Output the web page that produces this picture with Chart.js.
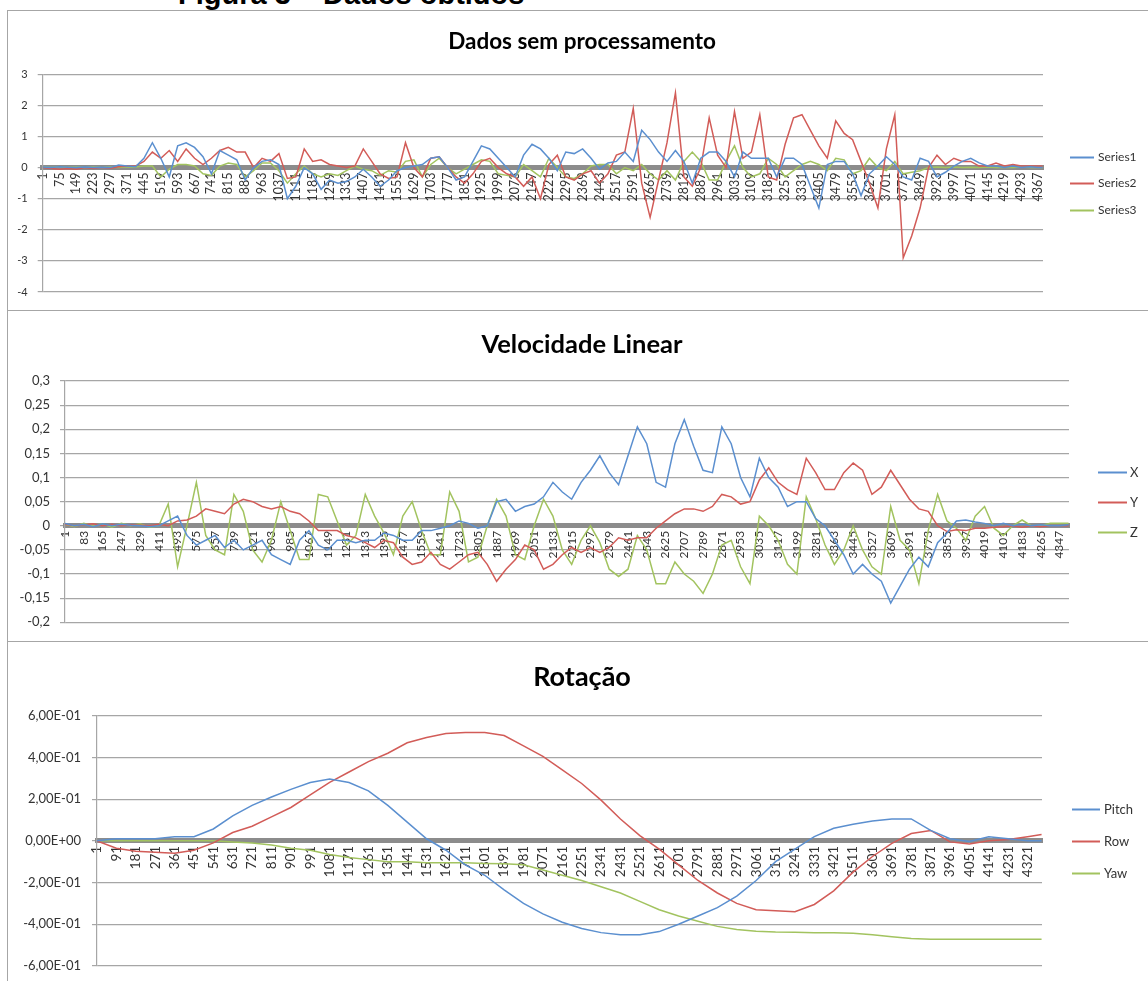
<!DOCTYPE html>
<html>
<head>
<meta charset="utf-8">
<title>Figura 3 – Dados obtidos</title>
<script src="https://cdn.jsdelivr.net/npm/chart.js@4.4.1/dist/chart.umd.min.js"></script>
<style>
  html, body { margin: 0; padding: 0; background: #fff; }
  body { width: 1148px; height: 981px; position: relative; overflow: hidden; font-family: Lato, sans-serif; }
  #caption { position: absolute; left: 178px; top: -20px; font: bold 29px/29px "Liberation Sans", Arial, sans-serif; color: #000; white-space: nowrap; }
  .panel { position: absolute; left: 7px; width: 1150px; border: 1px solid #a6a6a6; box-sizing: border-box; background: #fff; }
  .panel canvas { display: block; }
</style>
</head>
<body>
<div id="caption">Figura 3 – Dados obtidos</div>
<div class="panel" style="top:10px;height:301px"><canvas id="raw" width="1148" height="299"></canvas></div>
<div class="panel" style="top:310px;height:332px"><canvas id="vel" width="1148" height="330"></canvas></div>
<div class="panel" style="top:641px;height:345px"><canvas id="rot" width="1148" height="343"></canvas></div>

<script>
// ---- Dados sem processamento (sampled every 37 rows, last row 4386) ----
const rawTicks = [1, 75, 149, 223, 297, 371, 445, 519, 593, 667, 741, 815, 889, 963, 1037, 1111, 1185, 1259, 1333, 1407,
  1481, 1555, 1629, 1703, 1777, 1851, 1925, 1999, 2073, 2147, 2221, 2295, 2369, 2443, 2517, 2591, 2665, 2739, 2813, 2887,
  2961, 3035, 3109, 3183, 3257, 3331, 3405, 3479, 3553, 3627, 3701, 3775, 3849, 3923, 3997, 4071, 4145, 4219, 4293, 4367];
const rawSeries1 = [
  0.02, 0.00, 0.03, 0.01, 0.00, 0.02, 0.00, 0.01, 0.00, 0.08,
  0.05, 0.03, 0.30, 0.80, 0.30, -0.30, 0.70, 0.80, 0.65, 0.35,
  -0.20, 0.55, 0.40, 0.25, -0.40, 0.00, 0.20, 0.25, 0.10, -1.00,
  -0.60, 0.00, -0.20, -0.70, -0.40, -0.50, -0.45, -0.30, -0.05, -0.30,
  -0.60, -0.40, -0.10, 0.00, 0.05, 0.10, 0.30, 0.35, 0.00, -0.40,
  -0.30, 0.20, 0.70, 0.60, 0.30, 0.00, -0.30, 0.40, 0.75, 0.60,
  0.30, -0.10, 0.50, 0.45, 0.60, 0.30, -0.05, 0.15, 0.20, 0.50,
  0.20, 1.20, 0.90, 0.50, 0.20, 0.55, 0.20, -0.50, 0.30, 0.50,
  0.50, 0.20, -0.30, 0.50, 0.30, 0.30, 0.30, -0.30, 0.30, 0.30,
  0.10, -0.60, -1.30, 0.10, 0.20, 0.20, -0.20, -0.90, -0.20, 0.05,
  0.35, 0.10, -0.30, -0.40, 0.30, 0.20, -0.30, -0.15, 0.05, 0.20,
  0.30, 0.15, 0.05, 0.05, 0.00, 0.05, 0.00, 0.03, 0.00, 0.00];
const rawSeries2 = [
  0.00, -0.03, -0.05, -0.03, -0.05, 0.00, -0.03, 0.00, -0.02, 0.03,
  0.05, 0.05, 0.20, 0.50, 0.30, 0.55, 0.20, 0.60, 0.30, 0.10,
  0.30, 0.55, 0.65, 0.50, 0.50, 0.00, 0.30, 0.20, 0.45, -0.35,
  -0.30, 0.60, 0.20, 0.25, 0.10, 0.05, 0.00, 0.05, 0.60, 0.20,
  -0.20, -0.35, -0.30, 0.80, 0.00, -0.30, 0.30, 0.35, 0.00, -0.30,
  -0.50, -0.20, 0.20, 0.30, 0.00, -0.20, -0.30, -0.60, -0.30, -1.00,
  0.10, 0.40, -0.30, -0.40, -0.20, -0.10, -0.50, -0.20, 0.40, 0.50,
  1.90, -0.50, -1.60, -0.40, 0.80, 2.40, -0.30, -0.60, 0.00, 1.60,
  0.40, 0.00, 1.80, 0.30, 0.50, 1.70, -0.30, -0.40, 0.75, 1.60,
  1.70, 1.20, 0.70, 0.30, 1.50, 1.10, 0.90, 0.20, -0.50, -1.30,
  0.60, 1.70, -2.90, -2.20, -1.30, 0.00, 0.40, 0.10, 0.30, 0.20,
  0.20, 0.05, 0.05, 0.15, 0.05, 0.10, 0.05, 0.05, 0.05, 0.05];
const rawSeries3 = [
  0.02, 0.00, 0.03, 0.00, 0.02, 0.00, 0.02, 0.00, 0.02, 0.00,
  0.03, 0.02, 0.05, 0.05, -0.30, -0.05, 0.10, 0.10, 0.05, -0.20,
  -0.25, 0.05, 0.15, 0.10, -0.30, -0.10, 0.15, 0.15, -0.10, -0.50,
  -0.20, 0.05, -0.20, -0.30, -0.20, -0.25, -0.10, 0.05, -0.05, -0.10,
  -0.25, -0.10, -0.15, 0.20, 0.25, -0.30, 0.10, 0.30, 0.00, -0.20,
  -0.05, 0.10, 0.25, 0.20, -0.20, -0.25, -0.30, 0.10, -0.10, -0.30,
  0.30, 0.00, -0.30, -0.35, -0.20, 0.05, 0.10, 0.10, -0.20, 0.00,
  -0.10, 0.10, -0.20, -0.40, -0.10, -0.40, 0.20, 0.50, 0.20, -0.40,
  -0.40, 0.20, 0.70, 0.00, -0.30, -0.20, 0.30, 0.10, -0.30, -0.10,
  0.10, 0.20, 0.10, -0.10, 0.30, 0.25, -0.20, -0.10, 0.30, 0.00,
  -0.10, 0.20, -0.20, -0.15, -0.10, 0.00, 0.02, 0.00, 0.02, 0.00,
  0.01, 0.00, 0.02, 0.00, 0.01, 0.00, 0.02, 0.00, 0.01, 0.00];

// ---- Velocidade Linear (sampled every 41 rows) ----
const velTicks = [1, 83, 165, 247, 329, 411, 493, 575, 657, 739, 821, 903, 985, 1067, 1149, 1231, 1313, 1395, 1477, 1559,
  1641, 1723, 1805, 1887, 1969, 2051, 2133, 2215, 2297, 2379, 2461, 2543, 2625, 2707, 2789, 2871, 2953, 3035, 3117, 3199,
  3281, 3363, 3445, 3527, 3609, 3691, 3773, 3855, 3937, 4019, 4101, 4183, 4265, 4347];
const velX = [
  0.005, 0.000, 0.003, -0.002, 0.004, 0.000, 0.003, 0.001, 0.000, -0.002,
  0.000, 0.010, 0.020, -0.020, -0.040, -0.030, -0.020, -0.045, -0.030, -0.050,
  -0.040, -0.030, -0.060, -0.070, -0.080, -0.030, -0.010, -0.040, -0.050, -0.030,
  -0.030, -0.035, -0.030, -0.030, -0.015, -0.020, -0.030, -0.030, -0.010, -0.010,
  -0.005, 0.000, 0.010, 0.005, -0.005, 0.000, 0.050, 0.055, 0.030, 0.040,
  0.045, 0.060, 0.090, 0.070, 0.055, 0.090, 0.115, 0.145, 0.110, 0.085,
  0.145, 0.205, 0.170, 0.090, 0.080, 0.170, 0.220, 0.165, 0.115, 0.110,
  0.205, 0.170, 0.100, 0.060, 0.140, 0.100, 0.080, 0.040, 0.050, 0.050,
  0.015, 0.000, -0.030, -0.060, -0.100, -0.080, -0.100, -0.115, -0.160, -0.125,
  -0.090, -0.065, -0.085, -0.035, -0.015, 0.010, 0.012, 0.008, 0.005, 0.000,
  0.005, 0.000, 0.003, 0.000, 0.002, 0.000, 0.000, 0.002];
const velY = [
  0.003, 0.000, 0.002, 0.004, 0.000, 0.003, 0.000, 0.002, 0.001, 0.000,
  0.003, 0.000, 0.010, 0.012, 0.020, 0.035, 0.030, 0.025, 0.045, 0.055,
  0.050, 0.040, 0.035, 0.040, 0.030, 0.025, 0.010, -0.010, -0.010, -0.010,
  -0.020, -0.025, -0.035, -0.045, -0.030, -0.035, -0.065, -0.080, -0.075, -0.055,
  -0.080, -0.090, -0.075, -0.060, -0.055, -0.080, -0.115, -0.090, -0.070, -0.040,
  -0.050, -0.090, -0.080, -0.060, -0.045, -0.055, -0.045, -0.055, -0.045, -0.025,
  -0.030, -0.025, -0.025, -0.005, 0.010, 0.025, 0.035, 0.035, 0.030, 0.040,
  0.065, 0.060, 0.045, 0.050, 0.095, 0.120, 0.090, 0.075, 0.065, 0.140,
  0.110, 0.075, 0.075, 0.110, 0.130, 0.115, 0.065, 0.080, 0.115, 0.085,
  0.055, 0.035, 0.030, 0.000, -0.012, -0.008, -0.010, -0.005, -0.005, -0.003,
  -0.002, 0.000, -0.003, 0.000, -0.002, 0.000, 0.000, 0.000];
const velZ = [
  0.003, -0.002, 0.005, 0.000, 0.004, -0.003, 0.005, 0.000, 0.004, -0.003,
  0.000, 0.045, -0.085, 0.000, 0.090, -0.020, -0.050, -0.060, 0.065, 0.030,
  -0.050, -0.075, -0.030, 0.050, -0.010, -0.070, -0.070, 0.065, 0.060, 0.010,
  -0.040, -0.020, 0.065, 0.020, -0.015, -0.060, 0.020, 0.050, -0.010, -0.060,
  -0.060, 0.070, 0.030, -0.075, -0.065, 0.000, 0.055, 0.020, -0.060, -0.070,
  0.000, 0.055, 0.020, -0.050, -0.080, -0.030, 0.000, -0.035, -0.090, -0.105,
  -0.090, -0.020, -0.050, -0.120, -0.120, -0.075, -0.100, -0.115, -0.140, -0.100,
  -0.040, -0.030, -0.085, -0.120, 0.020, 0.000, -0.030, -0.080, -0.100, 0.060,
  0.015, -0.040, -0.080, -0.050, 0.000, -0.050, -0.085, -0.100, 0.040, -0.030,
  -0.050, -0.120, -0.010, 0.065, 0.010, -0.005, -0.030, 0.020, 0.040, -0.005,
  -0.020, 0.000, 0.012, 0.000, 0.000, 0.005, 0.005, 0.005];

// ---- Rotação (sampled every 90 rows) ----
const rotTicks = [1, 91, 181, 271, 361, 451, 541, 631, 721, 811, 901, 991, 1081, 1171, 1261, 1351, 1441, 1531, 1621, 1711,
  1801, 1891, 1981, 2071, 2161, 2251, 2341, 2431, 2521, 2611, 2701, 2791, 2881, 2971, 3061, 3151, 3241, 3331, 3421, 3511,
  3601, 3691, 3781, 3871, 3961, 4051, 4141, 4231, 4321];
const rotPitch = [
  0.000, 0.010, 0.010, 0.010, 0.020, 0.020, 0.057, 0.120, 0.170, 0.210,
  0.247, 0.280, 0.296, 0.280, 0.240, 0.170, 0.090, 0.010, -0.045, -0.115,
  -0.165, -0.235, -0.300, -0.350, -0.390, -0.420, -0.440, -0.450, -0.450, -0.435,
  -0.400, -0.360, -0.320, -0.265, -0.190, -0.100, -0.040, 0.020, 0.060, 0.080,
  0.095, 0.105, 0.105, 0.050, 0.010, -0.003, 0.020, 0.010, 0.000, 0.000];
const rotRow = [
  0.000, -0.035, -0.050, -0.055, -0.060, -0.045, -0.010, 0.040, 0.070, 0.115,
  0.160, 0.220, 0.280, 0.330, 0.380, 0.420, 0.470, 0.495, 0.515, 0.520,
  0.520, 0.505, 0.455, 0.405, 0.340, 0.275, 0.195, 0.105, 0.025, -0.040,
  -0.115, -0.190, -0.250, -0.300, -0.330, -0.335, -0.340, -0.305, -0.240, -0.150,
  -0.075, -0.012, 0.035, 0.050, -0.005, -0.015, 0.000, 0.007, 0.020, 0.030];
const rotYaw = [
  0.000, 0.000, 0.000, 0.000, 0.000, 0.000, 0.000, -0.005, -0.010, -0.020,
  -0.035, -0.045, -0.065, -0.080, -0.090, -0.100, -0.100, -0.105, -0.105, -0.105,
  -0.108, -0.110, -0.115, -0.140, -0.165, -0.190, -0.220, -0.250, -0.290, -0.330,
  -0.360, -0.385, -0.410, -0.425, -0.433, -0.437, -0.438, -0.440, -0.440, -0.443,
  -0.450, -0.460, -0.468, -0.472, -0.472, -0.472, -0.472, -0.472, -0.472, -0.472];

const LAST_ROW = 4386;
const BLUE = '#5B8FCF', RED = '#D25C58', GREEN = '#A2C35F';

Chart.defaults.font.family = 'Lato, "Open Sans", sans-serif';
Chart.defaults.color = '#333';

// row numbers of the sampled points: every `step` rows, then the last row
function sampleRows(step, count) {
  const rows = [];
  for (let i = 0; i < count - 1; i++) rows.push(1 + step * i);
  rows.push(LAST_ROW);
  return rows;
}

function toPoints(rows, values) {
  return values.map((v, i) => ({ x: rows[i], y: v }));
}

// Excel-like legend: short line + name, to the right of the plot
const sideLegend = {
  id: 'sideLegend',
  afterDraw(chart, args, opts) {
    const { ctx, chartArea } = chart;
    const sets = chart.data.datasets;
    const midY = (chartArea.top + chartArea.bottom) / 2;
    const x0 = chartArea.right + opts.offset;
    ctx.save();
    ctx.font = opts.fontSize + 'px Lato, sans-serif';
    ctx.textBaseline = 'middle';
    ctx.fillStyle = '#333';
    sets.forEach((ds, i) => {
      const y = Math.round(midY + (i - (sets.length - 1) / 2) * opts.spacing) + 0.5;
      ctx.strokeStyle = ds.borderColor;
      ctx.lineWidth = 2;
      ctx.beginPath();
      ctx.moveTo(x0, y);
      ctx.lineTo(x0 + opts.lineLen, y);
      ctx.stroke();
      ctx.fillText(ds.label, x0 + opts.lineLen + opts.gap, y);
    });
    ctx.restore();
  }
};

function makeChart(id, p) {
  const rows = sampleRows(p.step, p.series[0].values.length);
  const ctx = document.getElementById(id).getContext('2d');
  return new Chart(ctx, {
    type: 'line',
    data: {
      datasets: p.series.map(s => ({
        label: s.label,
        data: toPoints(rows, s.values),
        borderColor: s.color,
        borderWidth: 1.5,
        pointRadius: 0,
        tension: 0,
        fill: false
      }))
    },
    options: {
      responsive: false,
      devicePixelRatio: 1,
      animation: false,
      events: [],
      layout: { padding: { left: 0, right: 0, top: 0, bottom: p.bottom } },
      plugins: {
        legend: { display: false },
        tooltip: { enabled: false },
        title: {
          display: true,
          text: p.title,
          color: '#000',
          font: { size: p.titleSize, weight: 'bold' },
          padding: p.titlePadding
        },
        sideLegend: p.legend
      },
      scales: {
        x: {
          type: 'linear',
          min: 1,
          max: 4388,
          position: { y: 0 },
          grid: { display: false, drawTicks: false },
          border: { display: true, color: '#8c8c8c', width: 5 },
          afterBuildTicks: scale => { scale.ticks = p.ticks.map(v => ({ value: v })); },
          ticks: {
            autoSkip: false,
            minRotation: 90,
            maxRotation: 90,
            padding: 5,
            color: '#333',
            font: { size: p.xFont },
            callback: v => String(v)
          }
        },
        y: {
          min: p.yMin,
          max: p.yMax,
          afterFit: scale => { scale.width = p.yWidth; },
          grid: { color: '#a6a6a6', lineWidth: 1.2, tickLength: 5 },
          border: { color: '#a6a6a6', width: 1.2 },
          ticks: {
            stepSize: p.yStep,
            padding: p.yPad,
            color: '#333',
            font: { size: p.yFont },
            callback: p.yFormat
          }
        },
        // empty right-hand axis: only keeps room for the legend, so the title stays centred on the whole chart
        legendRoom: {
          position: 'right',
          grid: { display: false, drawTicks: false },
          border: { display: false },
          ticks: { display: false },
          afterFit: scale => { scale.width = p.legendRoom; }
        }
      }
    },
    plugins: [sideLegend]
  });
}

function commaDecimal(v) {
  return String(+v.toFixed(2)).replace('.', ',');
}

function sciLabel(v) {
  if (Math.abs(v) < 1e-9) return '0,00E+00';
  const exp = Math.floor(Math.log10(Math.abs(v)) + 1e-9);
  const mant = v / Math.pow(10, exp);
  return mant.toFixed(2).replace('.', ',') + 'E' + (exp < 0 ? '-' : '+') + String(Math.abs(exp)).padStart(2, '0');
}

makeChart('raw', {
  title: 'Dados sem processamento',
  titleSize: 22.5,
  titlePadding: { top: 17.5, bottom: 18.8 },
  bottom: 18,
  legendRoom: 113,
  step: 37,
  ticks: rawTicks,
  series: [
    { label: 'Series1', values: rawSeries1, color: BLUE },
    { label: 'Series2', values: rawSeries2, color: RED },
    { label: 'Series3', values: rawSeries3, color: GREEN }
  ],
  yMin: -4, yMax: 3, yStep: 1,
  yWidth: 34.7, yPad: 10, yFont: 11, xFont: 12.5,
  yFormat: v => String(v),
  legend: { offset: 27, lineLen: 24, gap: 4, spacing: 26.5, fontSize: 12 }
});

makeChart('vel', {
  title: 'Velocidade Linear',
  titleSize: 25.5,
  titlePadding: { top: 18.7, bottom: 20.7 },
  bottom: 18.7,
  legendRoom: 87,
  step: 41,
  ticks: velTicks,
  series: [
    { label: 'X', values: velX, color: BLUE },
    { label: 'Y', values: velY, color: RED },
    { label: 'Z', values: velZ, color: GREEN }
  ],
  yMin: -0.2, yMax: 0.3, yStep: 0.05,
  yWidth: 57, yPad: 10, yFont: 13, xFont: 12,
  yFormat: commaDecimal,
  legend: { offset: 29, lineLen: 29, gap: 3, spacing: 30, fontSize: 13 }
});

makeChart('rot', {
  title: 'Rotação',
  titleSize: 27,
  titlePadding: { top: 18.8, bottom: 22.5 },
  bottom: 19,
  legendRoom: 114,
  step: 90,
  ticks: rotTicks,
  series: [
    { label: 'Pitch', values: rotPitch, color: BLUE },
    { label: 'Row', values: rotRow, color: RED },
    { label: 'Yaw', values: rotYaw, color: GREEN }
  ],
  yMin: -0.6, yMax: 0.6, yStep: 0.2,
  yWidth: 89, yPad: 11, yFont: 13, xFont: 13.5,
  yFormat: sciLabel,
  legend: { offset: 30, lineLen: 28, gap: 4, spacing: 32, fontSize: 13 }
});
</script>
</body>
</html>
